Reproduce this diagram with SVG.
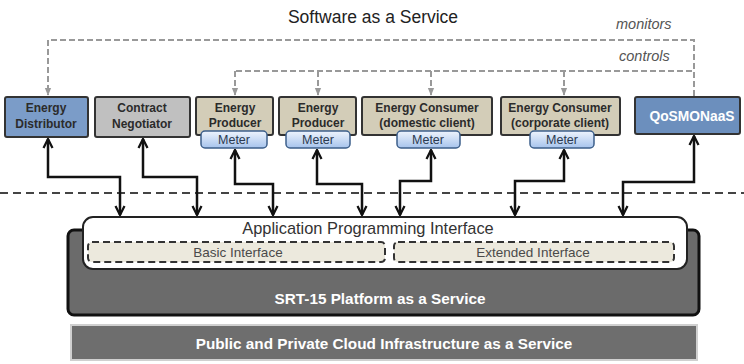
<svg xmlns="http://www.w3.org/2000/svg" width="744" height="364" viewBox="0 0 744 364">
<style>
.node{stroke:#333;stroke-width:2}
.lbl{font-family:"Liberation Sans",Arial,sans-serif;font-weight:bold;font-size:12px;fill:#2b2b2b;text-anchor:middle}
.meter{stroke:#3d5f8a;stroke-width:1.5;fill:url(#mg)}
.mt{font-family:"Liberation Sans",Arial,sans-serif;font-size:12.5px;fill:#2b3a50;text-anchor:middle}
.solid{fill:none;stroke:#111;stroke-width:2.5;marker-start:url(#ah);marker-end:url(#ah)}
.dash{fill:none;stroke:#999;stroke-width:2;stroke-dasharray:6,3}
.it{font-family:"Liberation Sans",Arial,sans-serif;font-style:italic;font-size:14.5px;fill:#555}
.sub{font-family:"Liberation Sans",Arial,sans-serif;font-size:13.5px;fill:#4a4a4a;text-anchor:middle}
</style>
<defs>
<linearGradient id="mg" x1="0" y1="0" x2="0" y2="1">
<stop offset="0" stop-color="#eef4fd"/>
<stop offset="1" stop-color="#a6c3ec"/>
</linearGradient>
<marker id="ah" viewBox="0 0 10 10" refX="9" refY="5" markerWidth="4.5" markerHeight="4.5" orient="auto-start-reverse" markerUnits="strokeWidth">
<path d="M1,1 L9,5 L1,9" fill="none" stroke="#111" stroke-width="2"/>
</marker>
<marker id="gh" viewBox="0 0 10 10" refX="9" refY="5" markerWidth="4" markerHeight="4" orient="auto" markerUnits="strokeWidth">
<path d="M0,1 L10,5 L0,9 Z" fill="#999"/>
</marker>
</defs>
<rect width="744" height="364" fill="#fff"/>
<text x="373" y="23" font-family="Liberation Sans,Arial,sans-serif" font-size="17.5" fill="#222" text-anchor="middle">Software as a Service</text>
<text class="it" x="616" y="29">monitors</text>
<text class="it" x="619" y="61">controls</text>

<g id="platform">
<rect x="68" y="230" width="631" height="85" rx="6" fill="#6b6b6b" stroke="#111" stroke-width="3"/>
<text x="380" y="304" font-family="Liberation Sans,Arial,sans-serif" font-weight="bold" font-size="15.3" fill="#fff" text-anchor="middle">SRT-15 Platform as a Service</text>
</g>
<g id="api">
<rect x="83" y="217" width="604" height="52" rx="10" fill="#fff" stroke="#222" stroke-width="2"/>
<text x="368" y="234" font-family="Liberation Sans,Arial,sans-serif" font-size="16.4" fill="#333" text-anchor="middle">Application Programming Interface</text>
</g>
<g id="basic">
<rect x="88" y="242" width="297" height="20" rx="4" fill="#ece9dd" stroke="#333" stroke-width="2" stroke-dasharray="7,4"/>
<text class="sub" x="238" y="257">Basic Interface</text>
</g>
<g id="extended">
<rect x="394" y="242" width="280" height="20" rx="4" fill="#ece9dd" stroke="#333" stroke-width="2" stroke-dasharray="7,4"/>
<text class="sub" x="533" y="257">Extended Interface</text>
</g>
<g id="cloud">
<rect x="71" y="325" width="626" height="35" fill="#6e6e6e" stroke="#d0d0d0" stroke-width="2"/>
<text x="384" y="349" font-family="Liberation Sans,Arial,sans-serif" font-weight="bold" font-size="15.3" fill="#fff" text-anchor="middle">Public  and Private Cloud Infrastructure as a Service</text>
</g>

<line x1="0" y1="193" x2="744" y2="193" stroke="#444" stroke-width="2" stroke-dasharray="8,5"/>

<g id="energy-distributor">
<rect class="node" x="5" y="97" width="83" height="40" rx="2" fill="#7b9cc8"/>
<text class="lbl" x="46" y="112" fill="#1f2d44">Energy</text>
<text class="lbl" x="46" y="128" fill="#1f2d44">Distributor</text>
</g>
<g id="contract-negotiator">
<rect class="node" x="95" y="97" width="95" height="40" rx="2" fill="#c0c0c0"/>
<text class="lbl" x="142" y="112">Contract</text>
<text class="lbl" x="142" y="128">Negotiator</text>
</g>
<g id="energy-producer-1">
<rect class="node" x="196" y="97" width="77" height="38" rx="2" fill="#d3cdb8"/>
<text class="lbl" x="235" y="112">Energy</text>
<text class="lbl" x="235" y="127">Producer</text>
<rect class="meter" x="201" y="131" width="66" height="17" rx="4"/>
<text class="mt" x="234" y="144">Meter</text>
</g>
<g id="energy-producer-2">
<rect class="node" x="279" y="97" width="77" height="38" rx="2" fill="#d3cdb8"/>
<text class="lbl" x="318" y="112">Energy</text>
<text class="lbl" x="318" y="127">Producer</text>
<rect class="meter" x="286" y="131" width="64" height="17" rx="4"/>
<text class="mt" x="318" y="144">Meter</text>
</g>
<g id="energy-consumer-domestic">
<rect class="node" x="362" y="97" width="130" height="38" rx="2" fill="#d3cdb8"/>
<text class="lbl" x="427" y="112">Energy Consumer</text>
<text class="lbl" x="427" y="127">(domestic client)</text>
<rect class="meter" x="397" y="131" width="63" height="17" rx="4"/>
<text class="mt" x="428" y="144">Meter</text>
</g>
<g id="energy-consumer-corporate">
<rect class="node" x="501" y="97" width="119" height="38" rx="2" fill="#d3cdb8"/>
<text class="lbl" x="560" y="112">Energy Consumer</text>
<text class="lbl" x="560" y="127">(corporate client)</text>
<rect class="meter" x="530" y="131" width="64" height="17" rx="4"/>
<text class="mt" x="562" y="144">Meter</text>
</g>
<g id="qosmonaas">
<rect class="node" x="635" y="97" width="105" height="37" rx="2" fill="#6c8fbd"/>
<text x="692" y="121" font-family="Liberation Sans,Arial,sans-serif" font-weight="bold" font-size="13.8" fill="#fff" text-anchor="middle">QoSMONaaS</text>
</g>

<g id="connectors">
<path class="dash" d="M694,96 V40 H48 V95" marker-end="url(#gh)"/>
<path class="dash" d="M692,71 H235"/>
<path class="dash" d="M235,71 V95" marker-end="url(#gh)"/>
<path class="dash" d="M318,71 V95" marker-end="url(#gh)"/>
<path class="dash" d="M431,71 V95" marker-end="url(#gh)"/>
<path class="dash" d="M564,71 V95" marker-end="url(#gh)"/>
<path class="solid" d="M120,215 V177 H48 V139"/>
<path class="solid" d="M197,215 V177 H143 V139"/>
<path class="solid" d="M273,215 V184 H235 V150"/>
<path class="solid" d="M362,215 V184 H317 V150"/>
<path class="solid" d="M400,215 V181 H431 V150"/>
<path class="solid" d="M515,215 V181 H564 V150"/>
<path class="solid" d="M623,215 V182 H694 V136"/>
</g>
</svg>
